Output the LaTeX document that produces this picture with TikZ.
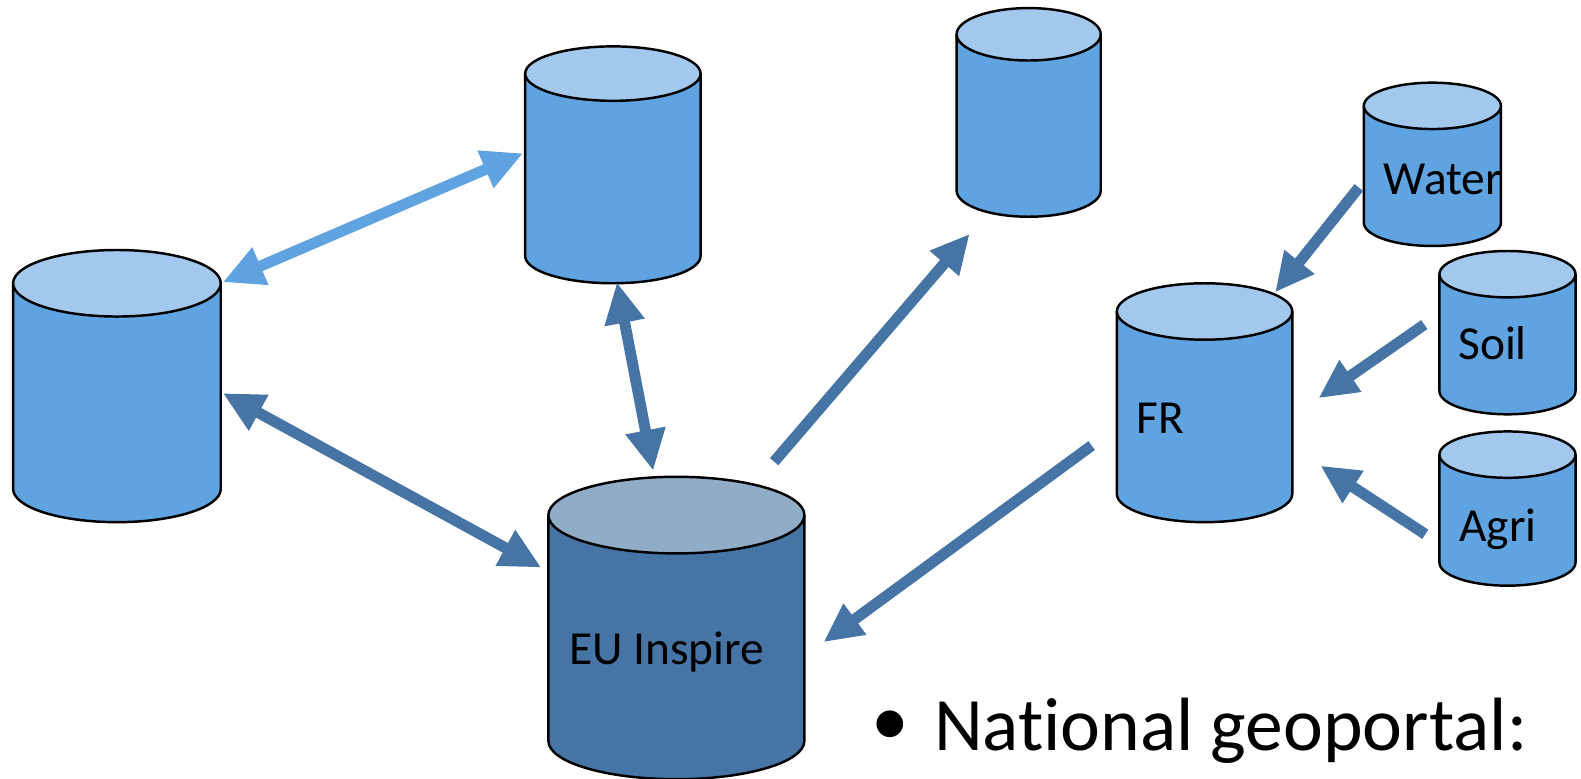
\documentclass[tikz,border=0pt]{standalone}
\usepackage{fontspec}
\setmainfont{Carlito}[Ligatures=NoCommon]
\usetikzlibrary{arrows.meta}
\definecolor{cylbody}{HTML}{5FA3E1}
\definecolor{cyltop}{HTML}{A2C8EE}
\definecolor{eubody}{HTML}{4674A5}
\definecolor{eutop}{HTML}{91ACC7}
\definecolor{arlight}{HTML}{5FA3E1}
\definecolor{ardark}{HTML}{4674A5}
\newcommand\dbcyl[7]{% xl, xr, ytop-centre, ybottom-centre, ry, body, top
  \pgfmathsetmacro\cylcx{(#1+#2)/2}%
  \pgfmathsetmacro\cylrx{(#2-#1)/2}%
  \path[fill=#6,draw=black,line width=0.7pt] (#1,#3) -- (#1,#4)
     arc[start angle=180,end angle=0,x radius=\cylrx,y radius=#5] -- (#2,#3);
  \path[fill=#7,draw=black,line width=0.7pt] (\cylcx,#3) ellipse[x radius=\cylrx,y radius=#5];
}
\tikzset{
  lbl/.style={inner sep=0pt,anchor=base west,font=\fontsize{13.5}{16}\selectfont},
  biarrow/.style={line width=0.11cm,{Triangle[length=0.41cm,width=0.38cm]}-{Triangle[length=0.41cm,width=0.38cm]}},
  onearrow/.style={line width=0.11cm,-{Triangle[length=0.39cm,width=0.36cm]}},
}
\begin{document}
\begin{tikzpicture}[x=0.01008cm,y=-0.01008cm]
\useasboundingbox (0,0) rectangle (1568.45,771.83);
% cylinders
\dbcyl{13}{219}{281}{485}{33}{cylbody}{cyltop}
\dbcyl{521}{695}{73}{254}{27}{cylbody}{cyltop}
\dbcyl{949}{1092}{34}{189}{26}{cylbody}{cyltop}
\dbcyl{544}{798}{511}{735}{38}{eubody}{eutop}
\dbcyl{1108}{1282}{309}{490}{28}{cylbody}{cyltop}
\dbcyl{1353}{1489}{105}{221}{23}{cylbody}{cyltop}
\dbcyl{1428}{1563}{272}{388}{23}{cylbody}{cyltop}
\dbcyl{1428}{1563}{451}{558}{23}{cylbody}{cyltop}
% labels
\node[lbl] (water) at (1372,193) {Water};
\node[lbl] (soil) at (1446,357) {Soil};
\node[lbl] (agri) at (1447,537) {Agri};
\node[lbl] (fr) at (1127,430) {FR};
\node[lbl] (eu) at (564,659) {EU Inspire};
\node[inner sep=0pt,font=\fontsize{21.5}{26}\selectfont] (bul) at (883,722) {•};
\node[inner sep=0pt,anchor=base west,font=\fontsize{21.5}{26}\selectfont] (geo) at (926,745) {National geoportal:};
% arrow end points
\coordinate (a1s) at (221,280); \coordinate (a1e) at (519,152);
\coordinate (a2s) at (221,390); \coordinate (a2e) at (537,563);
\coordinate (a3s) at (612,280); \coordinate (a3e) at (648,467);
\coordinate (a4s) at (768,458); \coordinate (a4e) at (962,232);
\coordinate (a5s) at (1083,442); \coordinate (a5e) at (817,637);
\coordinate (a6s) at (1348,186); \coordinate (a6e) at (1265,290);
\coordinate (a7s) at (1413,322); \coordinate (a7e) at (1308,395);
\coordinate (a8s) at (1414,530); \coordinate (a8e) at (1310,462);
% arrows
\draw[biarrow,arlight] (a1s) -- (a1e);
\draw[biarrow,ardark] (a2s) -- (a2e);
\draw[biarrow,ardark] (a3s) -- (a3e);
\draw[onearrow,ardark] (a4s) -- (a4e);
\draw[onearrow,ardark] (a5s) -- (a5e);
\draw[onearrow,ardark] (a6s) -- (a6e);
\draw[onearrow,ardark] (a7s) -- (a7e);
\draw[onearrow,ardark] (a8s) -- (a8e);
\end{tikzpicture}
\end{document}
